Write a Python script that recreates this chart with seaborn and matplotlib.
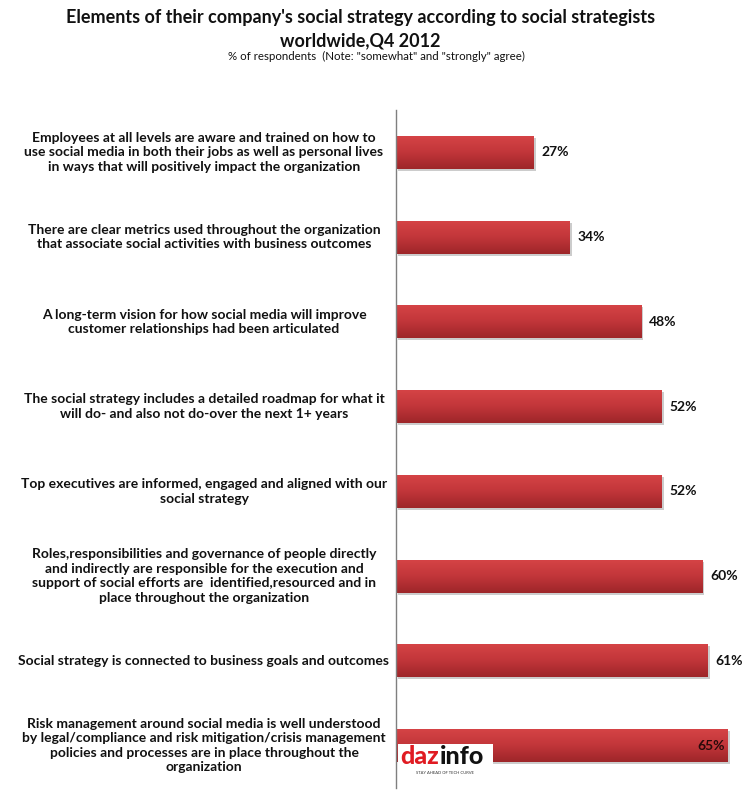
import matplotlib
matplotlib.use("Agg")
import matplotlib.pyplot as plt
import matplotlib.patheffects as pe
import matplotlib.transforms as mtransforms
import numpy as np
import pandas as pd
import seaborn as sns

labels = [
    "Employees at all levels are aware and trained on how to\nuse social media in both their jobs as well as personal lives\nin ways that will positively impact the organization",
    "There are clear metrics used throughout the organization\nthat associate social activities with business outcomes",
    "A long-term vision for how social media will improve\ncustomer relationships had been articulated",
    "The social strategy includes a detailed roadmap for what it\nwill do- and also not do-over the next 1+ years",
    "Top executives are informed, engaged and aligned with our\nsocial strategy",
    "Roles,responsibilities and governance of people directly\nand indirectly are responsible for the execution and\nsupport of social efforts are  identified,resourced and in\nplace throughout the organization",
    "Social strategy is connected to business goals and outcomes",
    "Risk management around social media is well understood\nby legal/compliance and risk mitigation/crisis management\npolicies and processes are in place throughout the\norganization",
]
values = [27, 34, 48, 52, 52, 60, 61, 65]

title = "Elements of their company's social strategy according to social strategists\nworldwide,Q4 2012"
subtitle = '% of respondents  (Note: "somewhat" and "strongly" agree)'

sns.set_style("white")
plt.rcParams["font.family"] = ["Lato", "DejaVu Sans"]

W, H = 743, 794
fig = plt.figure(figsize=(W / 100, H / 100), dpi=100)
ax = fig.add_axes([396 / W, 6 / H, 337 / W, 678 / H])

df = pd.DataFrame({"item": labels, "pct": values})
sns.barplot(data=df, x="pct", y="item", color="#c0363a", width=0.39, ax=ax,
            saturation=1, edgecolor="none")

# gradient fill + soft shadow on each bar
grad = np.linspace(0, 1, 64).reshape(-1, 1)
cmap = matplotlib.colors.LinearSegmentedColormap.from_list(
    "bar", ["#d64446", "#c2363a", "#9e2629"])
for bar in ax.patches:
    bar.set_path_effects([pe.SimplePatchShadow(offset=(1.5, -1.5), shadow_rgbFace="#9a9a9a", alpha=0.5),
                          pe.Normal()])
    x0, y0 = bar.get_x(), bar.get_y()
    w, h = bar.get_width(), bar.get_height()
    im = ax.imshow(grad, extent=[x0, x0 + w, y0 + h, y0], aspect="auto",
                   cmap=cmap, zorder=bar.get_zorder() + 0.1)
    im.set_clip_path(bar)

ax.set_xlim(0, 66)
ax.set_ylim(len(labels) - 0.5, -0.5)
ax.set_aspect("auto")

# value labels
for i, v in enumerate(values):
    if i == len(values) - 1:
        ax.text(v - 0.6, i, f"{v}%", ha="right", va="center", fontsize=10,
                fontweight="bold", color="#2a0a0a", zorder=5)
    else:
        ax.text(v + 1.5, i, f"{v}%", ha="left", va="center",
                fontsize=10, fontweight="bold", color="#111111", zorder=5)

# category labels centred in the left column
trans = mtransforms.blended_transform_factory(fig.transFigure, ax.transData)
ax.set_yticks([])
for i, lab in enumerate(labels):
    ax.text(204 / W, i, lab, transform=trans, ha="center", va="center",
            multialignment="center", fontsize=10, fontweight="bold",
            color="#111111", linespacing=1.25)

ax.set_xlabel("")
ax.set_ylabel("")
ax.set_xticks([])
for s in ["top", "right", "bottom"]:
    ax.spines[s].set_visible(False)
ax.spines["left"].set_color("#7f7f7f")
ax.spines["left"].set_linewidth(1.0)

fig.text(0.485, 1 - 29 / H, title, ha="center", va="center", fontsize=13,
         fontweight="bold", color="#111111", linespacing=1.4)
fig.text(0.507, 1 - 56 / H, subtitle, ha="center", va="center", fontsize=8.3,
         color="#111111")

# dazeinfo watermark
fig.patches.append(plt.Rectangle((398 / W, 1 - 777 / H), 95 / W, 33 / H,
                                 transform=fig.transFigure, facecolor="white",
                                 edgecolor="none", zorder=6))
fig.text(400 / W, 1 - 757 / H, "daz", ha="left", va="center", fontsize=18,
         fontweight="black", color="#e01b22", zorder=7)
fig.text(440 / W, 1 - 757 / H, "info", ha="left", va="center", fontsize=18,
         fontweight="black", color="#111111", zorder=7)
fig.text(445 / W, 1 - 773 / H, "STAY AHEAD OF TECH CURVE", ha="center", va="center",
         fontsize=3, color="#333333", zorder=7)

fig.savefig("out.png", dpi=100)
